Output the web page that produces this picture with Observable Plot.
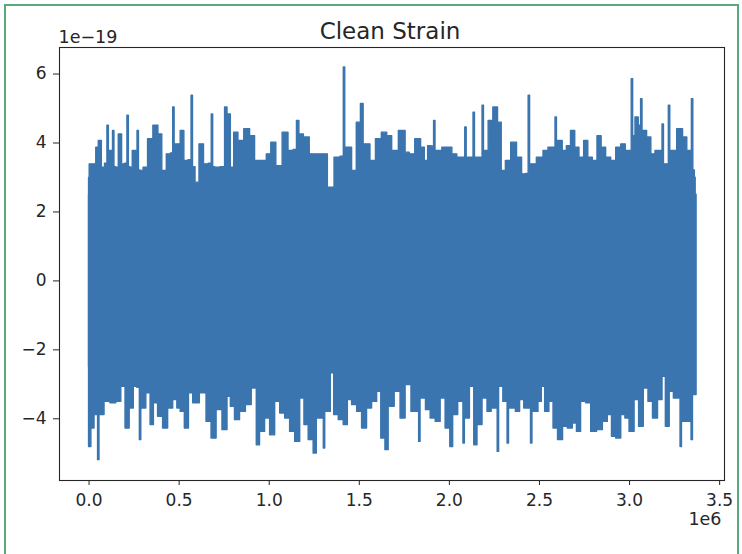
<!DOCTYPE html>
<html>
<head>
<meta charset="utf-8">
<script src="https://cdn.jsdelivr.net/npm/d3@7"></script>
<script src="https://cdn.jsdelivr.net/npm/@observablehq/plot@0.6"></script>
<style>
  html, body { margin: 0; padding: 0; background: #fff; }
  #wrap { position: relative; width: 742px; height: 554px; overflow: hidden; }
  #border { position: absolute; left: 4px; top: 4px; width: 735px; height: 600px; border: 2px solid #5aa97b; box-sizing: border-box; }
  #chart { position: absolute; left: 0; top: 0; }
</style>
</head>
<body>
<div id="wrap"><div id="border"></div><div id="chart"></div></div>
<script>
// Texts
const titleText = ["Clean Strain"];
const yOffsetText = ["1e\u221219"];
const xOffsetText = ["1e6"];

// Tick values (x in units of 1e6 samples, y in units of 1e-19)
const xTicks = [0, 0.5, 1.0, 1.5, 2.0, 2.5, 3.0, 3.5];
const yTicks = [-4, -2, 0, 2, 4, 6];

// Upper envelope of the strain trace: [sample index / 1e6, strain / 1e-19]
const upperPeaks = [
  [0.000,2.99],[0.007,3.38],[0.035,3.38],[0.045,3.86],[0.063,4.06],[0.079,3.28],[0.098,3.40],[0.106,4.50],
  [0.114,3.77],[0.119,3.77],[0.129,3.77],[0.137,4.35],[0.145,3.30],[0.156,3.28],[0.174,4.25],[0.193,3.38],
  [0.209,3.40],[0.217,4.79],[0.225,3.30],[0.236,3.28],[0.249,3.77],[0.265,3.77],[0.273,4.35],[0.281,3.20],
  [0.291,3.19],[0.314,3.28],[0.341,4.11],[0.373,4.50],[0.397,4.25],[0.416,3.19],[0.447,3.67],[0.463,3.70],
  [0.471,5.03],[0.479,3.96],[0.499,3.96],[0.518,4.35],[0.540,3.48],[0.565,3.50],[0.573,5.37],[0.581,3.30],
  [0.601,2.85],[0.625,3.96],[0.651,3.38],[0.677,3.40],[0.685,4.83],[0.693,3.30],[0.707,3.28],[0.751,3.30],
  [0.759,5.03],[0.778,4.83],[0.796,3.28],[0.815,4.30],[0.843,4.06],[0.880,4.40],[0.908,4.20],[0.935,3.48],
  [0.973,3.48],[1.000,3.67],[1.023,4.01],[1.056,3.33],[1.093,4.30],[1.121,3.77],[1.150,3.80],[1.158,4.64],
  [1.177,4.25],[1.208,4.16],[1.242,3.67],[1.269,3.67],[1.307,3.67],[1.344,2.70],[1.381,3.57],[1.410,3.60],
  [1.418,6.19],[1.426,3.86],[1.446,3.86],[1.474,3.19],[1.498,4.59],[1.520,5.13],[1.528,3.96],[1.548,3.96],
  [1.576,3.48],[1.609,4.11],[1.641,4.30],[1.669,4.20],[1.696,3.77],[1.743,4.35],[1.771,3.72],[1.789,3.67],
  [1.832,4.11],[1.854,3.86],[1.873,3.48],[1.891,3.91],[1.911,3.90],[1.919,4.64],[1.927,3.77],[1.947,3.77],
  [1.975,3.86],[2.003,3.86],[2.030,3.67],[2.058,3.57],[2.084,3.57],[2.092,4.45],[2.100,3.57],[2.114,3.57],
  [2.130,3.57],[2.138,4.88],[2.146,3.57],[2.160,3.57],[2.180,3.57],[2.188,5.08],[2.196,3.77],[2.207,3.77],
  [2.229,4.64],[2.259,5.03],[2.281,4.59],[2.300,3.19],[2.327,3.48],[2.359,4.01],[2.392,3.57],[2.415,3.09],
  [2.436,3.10],[2.444,5.37],[2.452,3.38],[2.467,3.38],[2.504,3.57],[2.541,3.77],[2.559,3.86],[2.585,3.86],
  [2.593,4.74],[2.601,4.06],[2.615,4.06],[2.643,3.77],[2.661,3.91],[2.689,4.35],[2.708,3.86],[2.736,3.57],
  [2.760,4.06],[2.782,3.57],[2.810,3.48],[2.834,4.20],[2.856,3.86],[2.884,3.57],[2.912,3.48],[2.940,3.86],
  [2.968,3.96],[2.990,3.77],[3.008,3.77],[3.016,5.85],[3.024,4.20],[3.042,4.74],[3.060,4.50],[3.068,5.27],
  [3.076,4.35],[3.088,4.35],[3.107,4.16],[3.135,3.67],[3.153,3.77],[3.179,3.77],[3.187,4.54],[3.195,3.38],
  [3.209,3.38],[3.214,3.38],[3.222,5.08],[3.230,3.77],[3.246,3.77],[3.283,4.40],[3.311,4.16],[3.330,3.77],
  [3.342,3.77],[3.350,5.27],[3.358,3.20],[3.367,2.99]
];

// Lower envelope of the strain trace
const lowerPeaks = [
  [0.000,-4.82],[0.026,-4.28],[0.035,-3.89],[0.046,-3.89],[0.054,-5.20],[0.062,-3.89],[0.072,-3.89],[0.100,-3.51],
  [0.137,-3.55],[0.165,-3.51],[0.193,-3.07],[0.212,-4.28],[0.239,-3.70],[0.258,-3.07],[0.278,-3.10],[0.286,-4.62],
  [0.294,-3.70],[0.304,-3.70],[0.332,-3.26],[0.351,-4.18],[0.369,-3.55],[0.397,-3.94],[0.425,-4.28],[0.453,-3.70],
  [0.481,-3.46],[0.499,-3.70],[0.518,-3.80],[0.545,-4.28],[0.564,-3.26],[0.592,-3.55],[0.638,-3.26],[0.666,-4.09],
  [0.694,-4.57],[0.722,-3.75],[0.759,-4.33],[0.778,-3.36],[0.796,-3.65],[0.824,-4.04],[0.852,-3.80],[0.889,-3.60],
  [0.917,-3.12],[0.927,-3.12],[0.935,-4.77],[0.963,-4.38],[0.991,-3.99],[1.019,-4.48],[1.047,-3.51],[1.075,-3.85],
  [1.102,-3.99],[1.130,-4.38],[1.158,-4.67],[1.186,-3.41],[1.205,-4.18],[1.233,-4.62],[1.260,-5.01],[1.268,-3.99],
  [1.279,-3.99],[1.299,-3.99],[1.307,-4.86],[1.315,-3.80],[1.335,-3.80],[1.349,-2.68],[1.372,-3.89],[1.400,-4.04],
  [1.427,-4.18],[1.446,-3.46],[1.474,-3.60],[1.502,-3.80],[1.529,-4.28],[1.557,-3.70],[1.585,-3.51],[1.613,-3.22],
  [1.631,-4.57],[1.659,-4.91],[1.667,-3.65],[1.678,-3.65],[1.715,-3.22],[1.743,-3.99],[1.771,-3.02],[1.808,-3.80],
  [1.828,-3.80],[1.836,-4.67],[1.844,-3.41],[1.858,-3.41],[1.882,-3.75],[1.910,-3.99],[1.938,-4.09],[1.965,-3.41],
  [1.993,-4.28],[2.017,-4.82],[2.025,-3.89],[2.040,-3.89],[2.058,-3.51],[2.074,-3.51],[2.082,-4.72],[2.090,-3.99],
  [2.105,-3.99],[2.123,-3.07],[2.134,-3.07],[2.142,-4.77],[2.170,-4.18],[2.198,-3.41],[2.225,-3.80],[2.244,-3.70],
  [2.264,-3.70],[2.272,-4.96],[2.280,-3.07],[2.290,-3.07],[2.309,-3.51],[2.319,-3.51],[2.327,-4.72],[2.335,-3.70],
  [2.355,-3.70],[2.383,-3.80],[2.402,-3.46],[2.429,-3.70],[2.449,-3.70],[2.457,-4.72],[2.465,-3.80],[2.485,-3.80],
  [2.504,-3.51],[2.522,-3.07],[2.541,-3.80],[2.569,-3.51],[2.587,-4.28],[2.619,-4.62],[2.643,-4.23],[2.671,-4.28],
  [2.699,-4.14],[2.717,-4.38],[2.745,-3.51],[2.773,-3.55],[2.801,-4.38],[2.838,-4.33],[2.866,-4.09],[2.893,-3.89],
  [2.912,-4.52],[2.940,-4.57],[2.968,-3.89],[2.986,-3.99],[3.014,-4.38],[3.042,-3.46],[3.064,-4.23],[3.094,-3.12],
  [3.116,-3.51],[3.144,-3.99],[3.172,-3.46],[3.194,-2.78],[3.209,-4.23],[3.237,-3.22],[3.255,-3.41],[3.279,-3.41],
  [3.287,-4.82],[3.295,-4.09],[3.311,-4.09],[3.340,-4.09],[3.348,-4.62],[3.356,-3.31],[3.372,-3.31]
];

const lineColor = "#3b75af";
const inkColor = "#262626";

const chart = Plot.plot({
  width: 742,
  height: 554,
  marginLeft: 59,
  marginRight: 18,
  marginTop: 47,
  marginBottom: 74,
  style: {fontFamily: "DejaVu Sans, sans-serif", fontSize: "17px", color: inkColor, background: "transparent"},
  x: {domain: [-0.164, 3.527], ticks: xTicks, tickFormat: d3.format(".1f"), tickSize: 5, tickPadding: 8, label: null},
  y: {domain: [-5.79, 6.77], ticks: yTicks, tickFormat: d => d3.format("d")(d).replace("-", "\u2212"), tickSize: 6, tickPadding: 7, label: null},
  marks: [
    Plot.areaY(upperPeaks, {x: d => d[0], y1: -2.5, y2: d => d[1], curve: "step", fill: lineColor, stroke: lineColor, strokeWidth: 1.4, strokeLinejoin: "round"}),
    Plot.areaY(lowerPeaks, {x: d => d[0], y1: d => d[1], y2: 2.5, curve: "step", fill: lineColor, stroke: lineColor, strokeWidth: 1.4, strokeLinejoin: "round"}),
    Plot.frame({stroke: inkColor, strokeWidth: 1.1}),
    Plot.text(titleText, {text: d => d, frameAnchor: "top", lineAnchor: "bottom", dy: -9, dx: -2, fontSize: 23, fill: inkColor}),
    Plot.text(yOffsetText, {text: d => d, frameAnchor: "top-left", textAnchor: "start", lineAnchor: "bottom", dy: -5, dx: -1, fontSize: 17.5, fill: inkColor}),
    Plot.text(xOffsetText, {text: d => d, frameAnchor: "bottom-right", textAnchor: "end", lineAnchor: "bottom", dy: 44, dx: -3, fontSize: 17.5, fill: inkColor})
  ]
});
document.getElementById("chart").appendChild(chart);
</script>
</body>
</html>
